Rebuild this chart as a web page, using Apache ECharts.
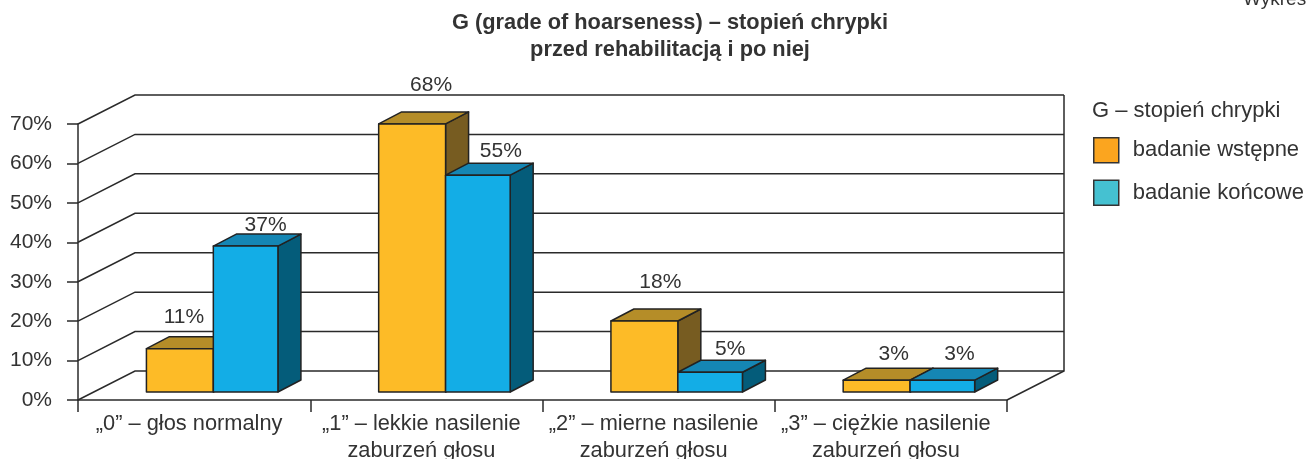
<!DOCTYPE html>
<html>
<head>
<meta charset="utf-8">
<title>G (grade of hoarseness)</title>
<script src="https://cdn.jsdelivr.net/npm/echarts@6/dist/echarts.min.js"></script>
<style>
    html, body { margin: 0; padding: 0; background: #fff; }
    #chart { width: 1307px; height: 459px; }
</style>
</head>
<body>
<div id="chart"></div>
<script>
var categories = [
    '„0” – głos normalny',
    '„1” – lekkie nasilenie\nzaburzeń głosu',
    '„2” – mierne nasilenie\nzaburzeń głosu',
    '„3” – ciężkie nasilenie\nzaburzeń głosu'
];
var seriesNames = ['badanie wstępne', 'badanie końcowe'];
var valuesBefore = [11, 68, 18, 3];
var valuesAfter = [37, 55, 5, 3];
var gridTicks = [0, 10, 20, 30, 40, 50, 60, 70];

var FONT = '"Liberation Sans", Arial, sans-serif';
var TEXT = '#333333';
var LINE = '#2a2a2a';

// oblique offset of the back wall and of a bar, in px
var WALL_DX = 57, WALL_DY = -29;
var BAR_DX = 23, BAR_DY = -12;
var INSET_DX = 17, INSET_DY = -8;

var beforeLook = {
    front: '#fdbb27', top: '#b58d28', side: '#775c21',
    from: -64.7, to: 2.2,
    labelDx: [4, 19, 16, 17], labelLift: [19, 27, 27, 14]
};
var afterLook = {
    front: '#13ade6', top: '#1586b4', side: '#045c7a',
    from: 2.2, to: 66.8,
    labelDx: [20, 23, 20, 17], labelLift: [9, 12, 11, 14]
};

function renderWall(params, api) {
    var cs = params.coordSys;
    var y = api.coord([0, api.value(1)])[1];
    var x0 = cs.x, x1 = cs.x + cs.width;
    var children = [{
        type: 'polyline',
        shape: { points: [[x0, y], [x0 + WALL_DX, y + WALL_DY], [x1 + WALL_DX, y + WALL_DY]] },
        style: { fill: null, stroke: LINE, lineWidth: 1.5 }
    }];
    if (api.value(1) === 0) {
        // floor edge and right wall
        children.push({
            type: 'polyline',
            shape: { points: [[x1, y], [x1 + WALL_DX, y + WALL_DY], [x1 + WALL_DX, cs.y + WALL_DY]] },
            style: { fill: null, stroke: LINE, lineWidth: 1.5 }
        });
    }
    return { type: 'group', children: children };
}

function makeBarRenderer(look) {
    return function (params, api) {
        var i = api.value(0);
        var v = api.value(1);
        var base = api.coord([i, 0]);
        var top = api.coord([i, v]);
        var cx = base[0] + INSET_DX;
        var x0 = cx + look.from, x1 = cx + look.to;
        var yb = base[1] + INSET_DY, yt = top[1] + INSET_DY;
        var edge = { stroke: '#222222', lineWidth: 1.5, lineJoin: 'round' };

        function face(points, fill) {
            return {
                type: 'polygon',
                shape: { points: points },
                style: { fill: fill, stroke: edge.stroke, lineWidth: edge.lineWidth, lineJoin: edge.lineJoin }
            };
        }

        return {
            type: 'group',
            children: [
                face([[x1, yt], [x1 + BAR_DX, yt + BAR_DY], [x1 + BAR_DX, yb + BAR_DY], [x1, yb]], look.side),
                face([[x0, yt], [x0 + BAR_DX, yt + BAR_DY], [x1 + BAR_DX, yt + BAR_DY], [x1, yt]], look.top),
                face([[x0, yt], [x1, yt], [x1, yb], [x0, yb]], look.front),
                {
                    type: 'text',
                    style: {
                        text: v + '%',
                        x: (x0 + x1) / 2 + look.labelDx[i],
                        y: yt + BAR_DY - look.labelLift[i],
                        align: 'center',
                        verticalAlign: 'middle',
                        fill: TEXT,
                        font: '21px ' + FONT
                    }
                }
            ]
        };
    };
}

function toPairs(values) {
    return values.map(function (v, i) { return [i, v]; });
}

var chart = echarts.init(document.getElementById('chart'));

chart.setOption({
    backgroundColor: '#ffffff',
    animation: false,
    title: [
        {
            text: 'G (grade of hoarseness) – stopień chrypki\nprzed rehabilitacją i po niej',
            left: 665, top: 4, textAlign: 'center',
            textStyle: { fontFamily: FONT, fontSize: 21.8, fontWeight: 'bold', color: TEXT, lineHeight: 27 }
        },
        {
            text: 'G – stopień chrypki',
            left: 1087, top: 94,
            textStyle: { fontFamily: FONT, fontSize: 22, fontWeight: 'normal', color: TEXT, lineHeight: 24 }
        },
        {
            text: 'Wykres',
            left: 1238, top: -15,
            textStyle: { fontFamily: FONT, fontSize: 19, fontWeight: 'normal', color: TEXT, lineHeight: 20 }
        }
    ],
    legend: {
        orient: 'vertical',
        left: 1093, top: 137,
        padding: 0,
        itemWidth: 25, itemHeight: 25, itemGap: 16,
        selectedMode: false,
        textStyle: { fontFamily: FONT, fontSize: 22, color: TEXT, padding: [0, 0, 0, 9] },
        data: [
            { name: seriesNames[0], icon: 'rect', itemStyle: { color: '#fba51f', borderColor: '#333333', borderWidth: 1.5 } },
            { name: seriesNames[1], icon: 'rect', itemStyle: { color: '#45c1d1', borderColor: '#333333', borderWidth: 1.5 } }
        ]
    },
    grid: { left: 78, right: 300, top: 124, bottom: 59, containLabel: false, outerBoundsMode: 'none' },
    xAxis: {
        type: 'category',
        data: categories,
        axisLine: { lineStyle: { color: LINE, width: 1.5 } },
        axisTick: { show: true, length: 12, lineStyle: { color: LINE, width: 1.5 } },
        axisLabel: {
            interval: 0, margin: 10, color: TEXT, fontFamily: FONT, fontSize: 21.8, lineHeight: 27,
            padding: [0, 10, 0, 0]
        }
    },
    yAxis: {
        type: 'value',
        min: 0, max: 70, interval: 10,
        axisLine: { show: true, lineStyle: { color: LINE, width: 1.5 } },
        axisTick: { show: true, length: 11, lineStyle: { color: LINE, width: 1.5 } },
        axisLabel: { formatter: '{value}%', margin: 26, color: TEXT, fontFamily: FONT, fontSize: 21 },
        splitLine: { show: false }
    },
    series: [
        {
            name: 'walls',
            type: 'custom',
            renderItem: renderWall,
            data: gridTicks.map(function (t) { return [0, t]; }),
            clip: false, silent: true, z: 1
        },
        {
            name: seriesNames[0],
            type: 'custom',
            renderItem: makeBarRenderer(beforeLook),
            data: toPairs(valuesBefore),
            itemStyle: { color: '#fba51f' },
            encode: { x: 0, y: 1 },
            clip: false, z: 2
        },
        {
            name: seriesNames[1],
            type: 'custom',
            renderItem: makeBarRenderer(afterLook),
            data: toPairs(valuesAfter),
            itemStyle: { color: '#45c1d1' },
            encode: { x: 0, y: 1 },
            clip: false, z: 3
        }
    ]
});
</script>
</body>
</html>
